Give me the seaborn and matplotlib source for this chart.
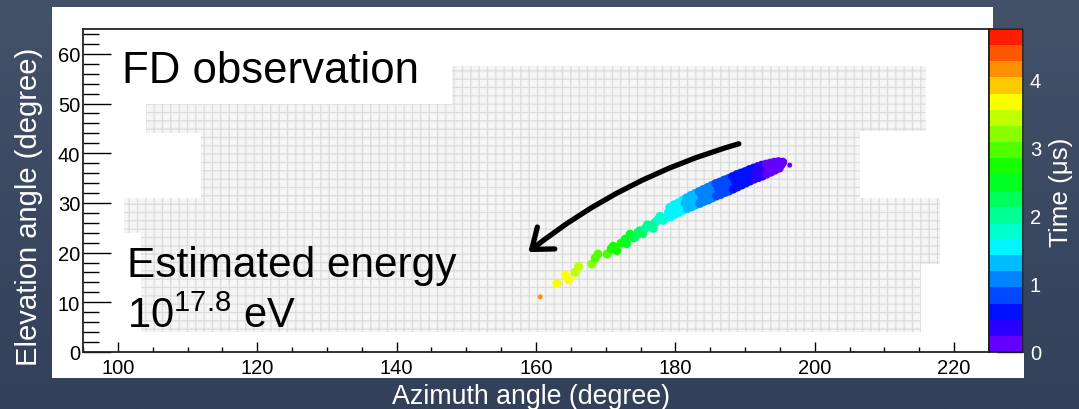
import colorsys
import numpy as np
import pandas as pd
import matplotlib
matplotlib.use("Agg")
import matplotlib.pyplot as plt
import matplotlib.colors as mcolors
from matplotlib.patches import Rectangle
import seaborn as sns

# ---------------- data ----------------
# camera footprints (azimuth/elevation extents of the PMT clusters)
cam_x0 = [104.0, 112.0, 148.0, 148.0, 100.9, 103.3, 103.3]
cam_x1 = [148.0, 148.0, 216.0, 206.5, 218.0, 218.0, 215.3]
cam_y0 = [44.0, 31.0, 44.5, 31.0, 24.0, 17.7, 4.0]
cam_y1 = [50.0, 44.0, 57.5, 44.5, 31.0, 24.0, 17.7]

# hit PMTs (azimuth deg, elevation deg, time us)
az = [163.0, 164.2, 164.7, 165.6, 166.1, 168.0, 168.5, 168.9, 170.2, 170.8,
      171.1, 171.6, 172.2, 172.8, 173.0, 173.5, 174.0, 174.2, 174.6, 174.9,
      175.3, 175.7, 176.0, 176.4, 176.8, 177.1, 177.5, 177.8, 178.2, 178.5,
      179.0, 179.2, 179.3, 179.6, 179.8, 179.9, 180.2, 180.4, 180.5, 180.8,
      181.0, 181.1, 181.4, 181.6, 181.7, 182.0, 182.2, 182.3, 182.6, 182.8,
      182.9, 183.2, 183.4, 183.5, 183.8, 184.0, 184.1, 184.4, 184.6, 184.7,
      185.0, 185.2, 185.3, 185.6, 185.8, 185.9, 186.2, 186.4, 186.5, 186.8,
      187.0, 187.1, 187.4, 187.6, 187.7, 188.0, 188.2, 188.3, 188.6, 188.8,
      188.9, 189.2, 189.4, 189.5, 189.8, 190.0, 190.1, 190.4, 190.6, 190.7,
      191.0, 191.2, 191.3, 191.6, 191.8, 191.9, 192.2, 192.4, 192.5, 192.8,
      193.0, 193.1, 193.4, 193.6, 193.7, 194.0, 194.2, 194.3, 194.6, 194.8,
      194.9, 195.2, 195.4]
el = [13.8, 15.5, 14.5, 16.0, 17.2, 17.7, 18.9, 19.7, 19.7, 20.8,
      21.3, 20.4, 21.9, 22.7, 21.8, 23.7, 23.0, 23.1, 24.0, 24.4,
      23.8, 24.9, 25.6, 25.4, 24.9, 26.1, 26.6, 27.3, 26.5, 26.9,
      28.1, 29.1, 27.2, 28.6, 29.6, 27.7, 29.0, 30.0, 28.1, 29.5,
      30.5, 28.5, 29.9, 31.0, 28.9, 30.3, 31.5, 29.2, 30.7, 31.9,
      29.6, 31.0, 32.3, 29.9, 31.4, 32.7, 30.3, 31.8, 33.1, 30.6,
      32.2, 33.5, 31.0, 32.6, 33.9, 31.4, 32.9, 34.2, 31.7, 33.3,
      34.6, 32.1, 33.6, 34.9, 32.4, 34.0, 35.3, 32.8, 34.4, 35.7,
      33.2, 34.7, 36.0, 33.6, 35.1, 36.3, 34.0, 35.5, 36.7, 34.4,
      35.8, 37.0, 34.8, 36.1, 37.3, 35.1, 36.4, 37.6, 35.4, 36.7,
      37.8, 35.8, 37.0, 38.0, 36.2, 37.3, 38.2, 36.6, 37.5, 38.3,
      37.0, 37.7, 38.2]
t = [3.75, 3.72, 3.70, 3.40, 3.35, 3.10, 3.05, 3.00, 2.90, 2.80,
     2.75, 2.72, 2.62, 2.55, 2.55, 2.45, 2.40, 2.35, 2.30, 2.25,
     2.20, 2.10, 2.05, 2.00, 1.95, 1.90, 1.85, 1.80, 1.75, 1.70,
     1.60, 1.59, 1.58, 1.56, 1.55, 1.54, 1.51, 1.50, 1.49, 1.47,
     1.45, 1.44, 1.40, 1.38, 1.37, 1.32, 1.30, 1.29, 1.26, 1.24,
     1.23, 1.20, 1.18, 1.17, 1.14, 1.12, 1.11, 1.08, 1.06, 1.05,
     1.02, 1.00, 0.99, 0.96, 0.94, 0.93, 0.90, 0.88, 0.87, 0.84,
     0.82, 0.81, 0.78, 0.76, 0.75, 0.72, 0.71, 0.70, 0.68, 0.66,
     0.66, 0.64, 0.63, 0.62, 0.60, 0.58, 0.58, 0.55, 0.54, 0.53,
     0.50, 0.48, 0.47, 0.44, 0.42, 0.41, 0.36, 0.32, 0.30, 0.25,
     0.22, 0.21, 0.19, 0.18, 0.17, 0.15, 0.14, 0.13, 0.12, 0.11,
     0.10, 0.08, 0.06]
# weak (small) hits at both ends of the track
az_weak = [160.6, 196.4]
el_weak = [11.1, 37.6]
t_weak = [4.20, 0.03]

x_ticks = [100, 120, 140, 160, 180, 200, 220]
y_ticks = [0, 10, 20, 30, 40, 50, 60]
cbar_ticks = [0, 1, 2, 3, 4]
t_max = 4.74
n_levels = 20

# ---------------- style ----------------
sns.set_theme(style="white")
plt.rcParams["font.family"] = ["Liberation Sans", "DejaVu Sans"]
plt.rcParams["mathtext.fontset"] = "custom"
plt.rcParams["mathtext.rm"] = "Liberation Sans"
plt.rcParams["mathtext.it"] = "Liberation Sans:italic"
plt.rcParams["mathtext.bf"] = "Liberation Sans:bold"
plt.rcParams["hatch.linewidth"] = 0.9

W, H = 1079, 410
fig = plt.figure(figsize=(W / 100, H / 100), dpi=100)

# background gradient + white canvas
bg = fig.add_axes([0, 0, 1, 1], zorder=-5)
top_c = np.array(mcolors.to_rgb("#435169"))
bot_c = np.array(mcolors.to_rgb("#33405a"))
grad = np.linspace(0, 1, 256)[:, None, None] * (bot_c - top_c) + top_c
bg.imshow(np.repeat(grad, 2, axis=1), aspect="auto", extent=[0, 1, 0, 1],
          origin="upper")
bg.set_xlim(0, 1)
bg.set_ylim(0, 1)
bg.axis("off")
bg.add_patch(Rectangle((52 / W, 1 - 379 / H), (993 - 52) / W, (379 - 8) / H,
                       facecolor="white", edgecolor="none"))
bg.add_patch(Rectangle((993 / W, 1 - 379 / H), (1024 - 993) / W, (379 - 29) / H,
                       facecolor="white", edgecolor="none"))

# colormap: 20 discrete rainbow levels (violet -> red)
cols = [colorsys.hsv_to_rgb(0.75 * (1 - (i + 0.5) / n_levels), 1, 1)
        for i in range(n_levels)]
cmap = mcolors.ListedColormap(cols)
norm = mcolors.BoundaryNorm(np.linspace(0, t_max, n_levels + 1), n_levels)

ax_l, ax_r, ax_t, ax_b = 83 / W, 989 / W, 1 - 30 / H, 1 - 353 / H
ax = fig.add_axes([ax_l, ax_b, ax_r - ax_l, ax_t - ax_b])
ax.set_facecolor("white")

# camera footprints
widths = [b - a for a, b in zip(cam_x0, cam_x1)]
heights = [b - a for a, b in zip(cam_y0, cam_y1)]
ax.bar(cam_x0, heights, width=widths, bottom=cam_y0, align="edge",
       color="#f5f5f5", edgecolor="#dcdcdc", hatch="++", linewidth=0,
       zorder=1)

# track
df = pd.DataFrame({"az": az, "el": el, "t": t})
sns.scatterplot(data=df, x="az", y="el", hue="t", palette=cmap,
                hue_norm=norm, s=42, linewidth=0, legend=False, ax=ax,
                zorder=3)
dfw = pd.DataFrame({"az": az_weak, "el": el_weak, "t": t_weak})
sns.scatterplot(data=dfw, x="az", y="el", hue="t", palette=cmap,
                hue_norm=norm, s=13, linewidth=0, legend=False, ax=ax,
                zorder=3)

ax.set_xlim(95, 225)
ax.set_ylim(0, 65)
ax.set_xlabel("")
ax.set_ylabel("")
ax.set_xticks(x_ticks)
ax.set_xticklabels([str(v) for v in x_ticks])
ax.set_yticks(y_ticks)
ax.set_yticklabels([str(v) for v in y_ticks])
ax.set_xticks(np.arange(95, 226, 5), minor=True)
ax.set_yticks(np.arange(0, 65, 2), minor=True)
ax.tick_params(axis="x", which="major", direction="in", length=7.2, width=1.0,
               color="black", labelsize=14.5, labelcolor="black", pad=4,
               bottom=True, top=False)
ax.tick_params(axis="x", which="minor", direction="in", length=3.6, width=1.0,
               color="black", bottom=True, top=False)
ax.tick_params(axis="y", which="major", direction="in", length=20, width=1.0,
               color="black", labelsize=14.5, labelcolor="black", pad=2,
               left=True, right=False)
ax.tick_params(axis="y", which="minor", direction="in", length=11.5, width=1.0,
               color="black", left=True, right=False)
for sp in ax.spines.values():
    sp.set_color("#222222")
    sp.set_linewidth(1.3)
    sp.set_visible(True)

# annotations
ax.text(100.6, 54.3, "FD observation", fontsize=31.5, color="black",
        va="baseline", ha="left", zorder=5)
ax.text(101.3, 15.3, "Estimated energy", fontsize=30.5, color="black",
        va="baseline", ha="left", zorder=5)
ax.text(101.3, 5.0, r"10$^{\mathrm{17.8}}$ eV", fontsize=30, color="black",
        va="baseline", ha="left", zorder=5)
ax.annotate("", xy=(158.9, 20.1), xytext=(189.1, 41.9),
            arrowprops=dict(arrowstyle="->,head_length=0.55,head_width=0.42",
                            connectionstyle="arc3,rad=0.1", lw=3.8,
                            color="black", mutation_scale=24,
                            shrinkA=0, shrinkB=0),
            zorder=4)

# colorbar
cax = fig.add_axes([989 / W, ax_b, (1023 - 989) / W, ax_t - ax_b])
sm = plt.cm.ScalarMappable(norm=norm, cmap=cmap)
cb = fig.colorbar(sm, cax=cax)
cb.set_ticks(cbar_ticks)
cb.set_ticklabels([str(v) for v in cbar_ticks])
cax.set_yticks(np.arange(0.5, t_max, 1.0), minor=True)
cax.tick_params(axis="y", which="both", direction="in", length=18.7,
                width=1.0, color="black", right=True, left=False,
                labelright=True, labelleft=False, labelsize=14.5,
                labelcolor="white", pad=5)
cb.outline.set_edgecolor("#222222")
cb.outline.set_linewidth(1.3)

# axis titles
fig.text(531 / W, 1 - 404 / H, "Azimuth angle (degree)", color="white",
         fontsize=19.3, ha="center", va="baseline")
fig.text(29 / W, 1 - 207 / H, "Elevation angle (degree)", color="white",
         fontsize=21, ha="center", va="center", rotation=90)
fig.text(1061 / W, 1 - 192 / H, "Time (μs)", color="white",
         fontsize=18.7, ha="center", va="center", rotation=90)

fig.savefig("out.png", dpi=100)
